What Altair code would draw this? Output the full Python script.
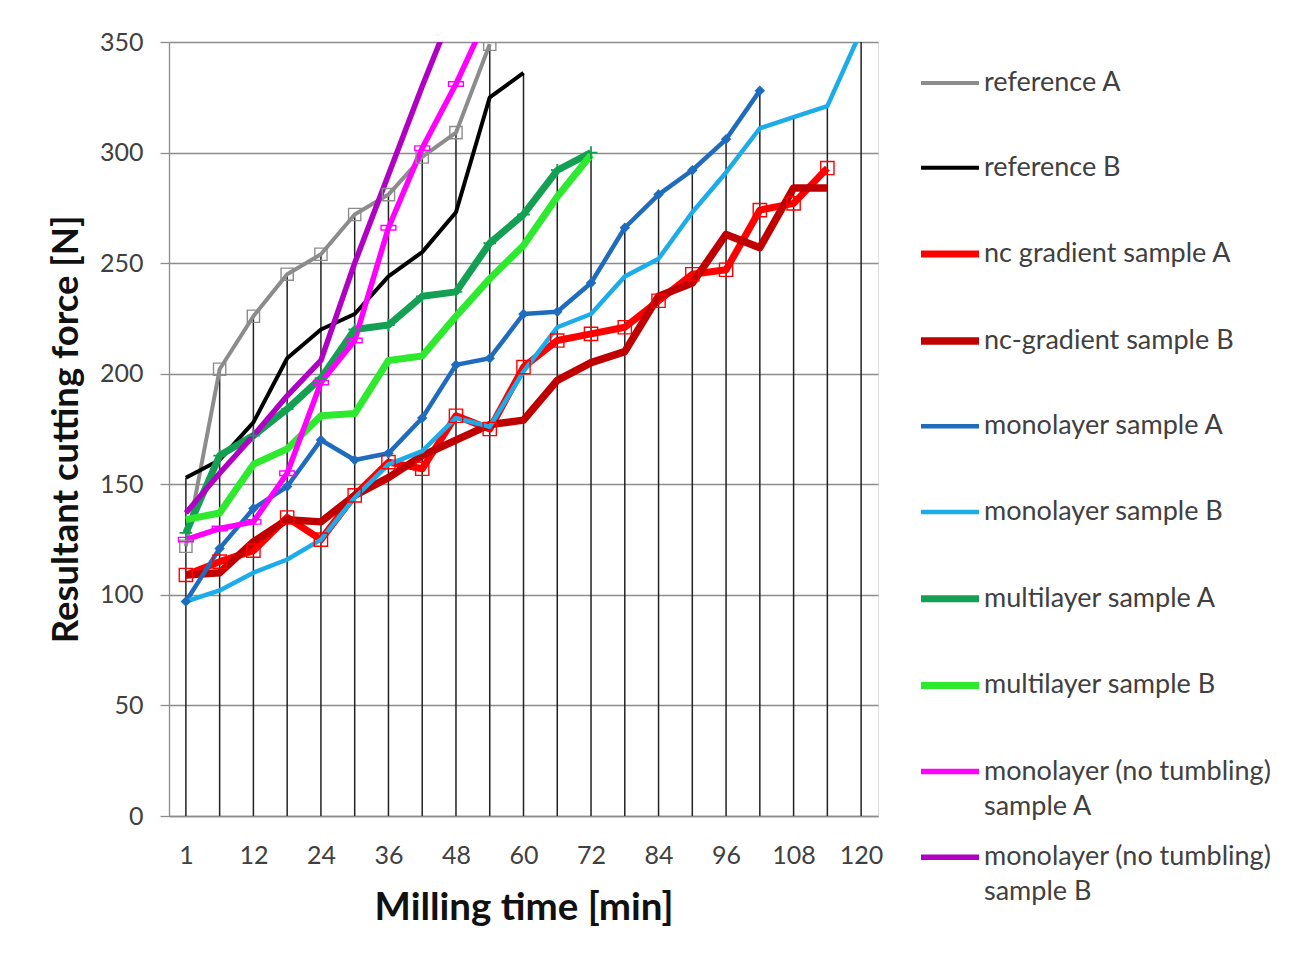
import altair as alt
import pandas as pd

# ---- data ----
CATEGORIES = [1, 6, 12, 18, 24, 30, 36, 42, 48, 54, 60, 66, 72, 78, 84, 90, 96, 102, 108, 114, 120]
TICK_LABELS = [1, 12, 24, 36, 48, 60, 72, 84, 96, 108, 120]
Y_TICKS = [0, 50, 100, 150, 200, 250, 300, 350]

SERIES = [
    "reference A",
    "reference B",
    "nc gradient sample A",
    "nc-gradient sample B",
    "monolayer sample A",
    "monolayer sample B",
    "multilayer sample A",
    "multilayer sample B",
    "monolayer (no tumbling) sample A",
    "monolayer (no tumbling) sample B",
]

reference_a = [122, 202, 226, 245, 254, 272, 281, 298, 309, 349]
reference_b = [153, 161, 178, 207, 220, 227, 244, 255, 273, 325, 336]
nc_gradient_a = [109, 115, 120, 135, 125, 145, 160, 157, 181, 175, 203, 215, 218, 221, 233, 245, 247, 274, 277, 293]
nc_gradient_b = [109, 110, 124, 134, 133, 145, 153, 163, 170, 177, 179, 197, 205, 210, 235, 241, 263, 257, 284, 284]
monolayer_a = [97, 121, 139, 149, 170, 161, 164, 180, 204, 207, 227, 228, 241, 266, 281, 292, 306, 328]
monolayer_b = [97, 102, 110, 116, 125, 144, 159, 165, 180, 176, 201, 221, 227, 244, 252, 273, 291, 311, 316, 321, 355]
multilayer_a = [128, 163, 172, 184, 198, 220, 222, 235, 237, 259, 272, 292, 300]
multilayer_b = [134, 137, 159, 166, 181, 182, 206, 208, 226, 243, 258, 280, 299]
no_tumbling_a = [125, 130, 133, 155, 196, 215, 266, 302, 331, 364]
no_tumbling_b = [137, 155, 172, 190, 206, 250, 290, 330, 368]

VALUES = [reference_a, reference_b, nc_gradient_a, nc_gradient_b, monolayer_a,
          monolayer_b, multilayer_a, multilayer_b, no_tumbling_a, no_tumbling_b]
# 1 = primary axis group (has drop lines), 0 = secondary group
PRIMARY = [1, 1, 1, 1, 1, 1, 1, 1, 0, 0]

COLORS = ["#8c8c8c", "#000000", "#ff0000", "#c00000", "#1f6cbf",
          "#1cace9", "#13a052", "#2eea2e", "#ff00ff", "#b000c4"]
WIDTHS = [4, 4, 7, 7.5, 4.5, 4.5, 7, 7, 5.5, 5.5]

rows = []
for name, vals, prim in zip(SERIES, VALUES, PRIMARY):
    for t, v in zip(CATEGORIES, vals):
        rows.append({"series": name, "t": t, "force": v, "primary": prim})
df = pd.DataFrame(rows)

FONT = "Lato"
x_enc = alt.X(
    "t:O",
    scale=alt.Scale(type="point", domain=CATEGORIES, padding=0.5),
    axis=alt.Axis(
        values=TICK_LABELS, title="Milling time [min]", labelAngle=0,
        labelAlign="center", labelBaseline="top",
        ticks=False, tickSize=0, labelPadding=27, grid=False,
        domainColor="#8c8c8c", domainWidth=1.3,
        labelFont=FONT, labelFontSize=25, labelColor="#404040",
        titleFont=FONT, titleFontSize=38.5, titleFontWeight="bold", titleColor="#111111",
        titlePadding=21,
    ),
)
y_enc = alt.Y(
    "force:Q",
    scale=alt.Scale(domain=[0, 350], nice=False, zero=True),
    axis=alt.Axis(
        values=Y_TICKS, title="Resultant cutting force [N]",
        labelAlign="right", labelBaseline="middle",
        grid=True, gridColor="#8c8c8c", gridWidth=1.3,
        domainColor="#8c8c8c", domainWidth=1.3,
        tickColor="#8c8c8c", tickSize=9, tickWidth=1.3, labelPadding=17,
        labelFont=FONT, labelFontSize=25, labelColor="#404040",
        titleFont=FONT, titleFontSize=36.5, titleFontWeight="bold", titleColor="#111111",
        titlePadding=14,
    ),
)

drops = (
    alt.Chart(df)
    .transform_filter(alt.datum.primary == 1)
    .transform_aggregate(top="max(force)", groupby=["t"])
    .transform_calculate(top="min(datum.top, 350)")
    .mark_rule(color="#222222", strokeWidth=1.5)
    .encode(x=alt.X("t:O"), y=alt.Y("top:Q"), y2=alt.datum(0))
)

legend = alt.Legend(
    orient="none", legendX=748, legendY=10, title=None,
    symbolType="stroke", symbolSize=3364,
    labelFont=FONT, labelFontSize=27, labelColor="#404040", labelLimit=600,
    labelOffset=1, rowPadding=5.7,
    labelExpr="indexof(datum.label, '(') > 0 ? [slice(datum.label, 0, 23), slice(datum.label, 24)] : [datum.label, ' ']",
)

lines = (
    alt.Chart(df)
    .mark_line(clip=True, strokeJoin="round")
    .encode(
        x=x_enc,
        y=y_enc,
        color=alt.Color("series:N", scale=alt.Scale(domain=SERIES, range=COLORS), legend=legend),
        strokeWidth=alt.StrokeWidth("series:N", scale=alt.Scale(type="ordinal", domain=SERIES, range=WIDTHS), legend=legend),
    )
)

PLUS = "M-1,0L1,0M0,-1L0,1"
DASH = "M-1,-0.3L1,-0.3L1,0.3L-1,0.3Z"
marker_specs = [
    ("reference A", "square", False, 150, "#8c8c8c", 1.4),
    ("nc gradient sample A", "square", False, 175, "#ff0000", 1.4),
    ("monolayer sample A", "diamond", True, 110, "#1f6cbf", 1),
    ("multilayer sample A", PLUS, False, 160, "#13a052", 1.8),
    ("monolayer (no tumbling) sample A", DASH, False, 220, "#ff00ff", 1.4),
]
markers = []
for name, shape, filled, size, color, sw in marker_specs:
    markers.append(
        alt.Chart(df)
        .transform_filter(alt.datum.series == name)
        .mark_point(shape=shape, filled=filled, size=size, color=color,
                    strokeWidth=sw, opacity=1, clip=True)
        .encode(x=alt.X("t:O"), y=alt.Y("force:Q"))
    )

chart = (
    alt.layer(drops, lines, *markers)
    .properties(
        width=709, height=774,
        padding={"left": 161, "top": 34, "right": 415, "bottom": 130},
        autosize=alt.AutoSizeParams(type="none"),
        background="white",
    )
    .configure_view(stroke=None)
    .configure(style={"guide-label": {"lineHeight": 35}})
)

chart.save("out.html", embed_options={"renderer": "svg", "actions": False})
